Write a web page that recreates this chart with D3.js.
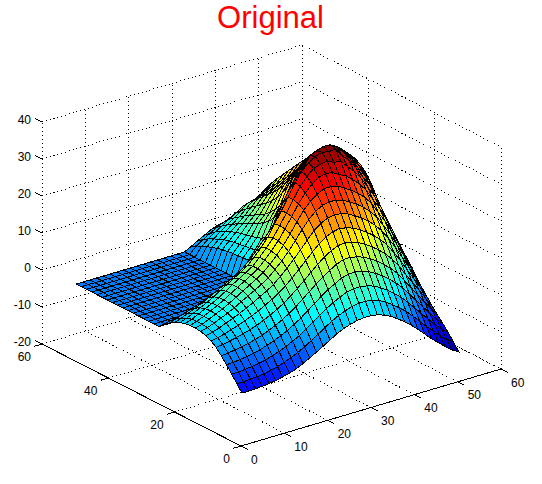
<!DOCTYPE html>
<html><head><meta charset="utf-8">
<style>html,body{margin:0;padding:0;background:#fff}svg{display:block}text{font-family:"Liberation Sans",Arial,sans-serif}</style>
<script src="https://cdnjs.cloudflare.com/ajax/libs/d3/7.8.5/d3.min.js"></script>
</head><body><svg id="c" width="542" height="484"></svg>
<script>
const titleText = "Original";
const xTicks = [0,10,20,30,40,50,60];
const yTicks = [0,20,40,60];
const zTicks = [-20,-10,0,10,20,30,40];
const gridCoords = [1,2.56,4.13,5.69,7.25,8.81,10.38,11.94,13.5,15.06,16.63,18.19,19.75,21.31,22.88,24.44,26,27.56,29.13,30.69,32.25,33.81,35.38,36.94,38.5,40.06,41.63,43.19,44.75,46.31,47.88,49.44,51];
const plane = [0,0,0,0,0,0,0,0,0,0,0,0,0,0,0,0,0];
// surface heights: one list per x node, values by y node
const surfaceZ = [
[-6.5,-4.7,-2.8,-1.0,0.7,2.3,3.3,4.0,4.4,4.6,4.6,4.4,3.9,3.2,2.4,1.4,...plane],
[-6.5,-4.7,-2.8,-0.9,0.9,2.5,3.6,4.4,4.9,5.1,5.2,5.0,4.6,3.9,3.0,1.8,...plane],
[-6.4,-4.5,-2.6,-0.7,1.2,2.9,4.1,5.0,5.6,5.9,6.0,5.9,5.4,4.7,3.7,2.2,...plane],
[-6.3,-4.4,-2.4,-0.4,1.5,3.3,4.7,5.8,6.4,6.8,6.9,6.8,6.3,5.5,4.3,2.6,...plane],
[-6.1,-4.2,-2.1,-0.1,1.9,3.8,5.3,6.5,7.2,7.6,7.8,7.7,7.2,6.3,5.0,3.0,...plane],
[-5.8,-3.8,-1.7,0.4,2.4,4.3,6.0,7.3,8.1,8.6,8.8,8.7,8.2,7.2,5.7,3.4,...plane],
[-5.4,-3.3,-1.1,1.0,3.0,5.0,6.8,8.2,9.2,9.7,10,9.9,9.4,8.2,6.5,3.9,...plane],
[-4.9,-2.7,-0.5,1.7,3.8,5.8,7.6,9.1,10.2,10.8,11.1,11.1,10.5,9.2,7.3,4.4,...plane],
[-4.3,-2.0,0.3,2.5,4.6,6.7,8.6,10.2,11.2,11.9,12.2,12.2,11.6,10.2,8.1,4.9,...plane],
[-3.4,-1.1,1.2,3.4,5.6,7.7,9.6,11.2,12.3,13,13.3,13.3,12.7,11.2,8.9,5.4,...plane],
[-2.4,-0.1,2.2,4.5,6.7,8.8,10.8,12.4,13.5,14.2,14.5,14.5,13.9,12.4,9.9,6,...plane],
[-1.4,1,3.4,5.7,8,10.2,12.2,14,15.2,15.9,16.3,16.3,15.7,14,11.2,6.8,...plane],
[-0.3,2.2,4.7,7.1,9.5,11.7,13.8,15.7,17,17.8,18.2,18.3,17.7,16,12.9,7.9,...plane],
[0.8,3.4,6,8.5,11,13.3,15.6,17.6,19,19.9,20.4,20.5,20,18.2,14.8,9.2,...plane],
[1.9,4.6,7.3,9.9,12.5,15,17.4,19.6,21.4,22.5,23.1,23.3,23,20.4,17.3,11,...plane],
[2.8,5.6,8.4,11.2,13.9,16.6,19.2,21.7,23.8,25.2,25.9,26.2,26,22.8,19,13.2,...plane],
[3.4,6.3,9.3,12.2,15.1,18,20.9,23.7,26,27.8,28.8,29.2,29.2,27,23.5,16,...plane],
[3.9,7,10.1,13.2,16.2,19.2,22.2,25.1,27.7,29.7,31.2,32.2,32.6,30.2,26.5,21,13,8,6.2,5.6,5.3,5.1,5,4.9,4.8,4.6,4.4,4,3.6,3,2.4,1.8,1],
[4.1,7.3,10.5,13.7,16.9,20,23,26,28.7,31,33,34.4,35,32.8,29.5,26,21,14,10,8.4,7.8,7.4,7.1,6.9,6.7,6.5,6.2,5.8,5.2,4.6,3.9,3,2],
[4.1,7.3,10.5,13.8,17,20.2,23.4,26.4,29.2,32,34.4,36,36.8,34.7,31.8,28.5,24.5,19.5,15.5,12.5,11,10,9.4,9,8.7,8.4,8,7.4,6.8,6,5.2,4.1,3],
[3.8,7,10.2,13.4,16.6,19.8,23,26.1,29,32,34.8,36.6,38,37.5,34.6,32,29,25.5,21.5,18,15.6,14,12.9,12,11.2,10.5,9.8,9,8.2,7.3,6.3,5.2,4],
[3.2,6.4,9.6,12.8,16,19.2,22.4,25.5,28.5,31.6,34.6,37,38.6,38.3,36.5,34,31,28,24.5,21.2,18.8,16.7,15.2,14,13.1,12.3,11.5,10.6,9.6,8.6,7.5,6,4.6],
[2.3,5.4,8.6,11.8,15,18.2,21.4,24.5,27.5,30.5,33.4,36,38.2,38.9,37.4,35.8,33.6,31.2,28.5,25.8,23,20.6,18.6,17,15.7,14.6,13.5,12.4,11.2,10,8.6,6.8,4.8],
[1.1,4.2,7.4,10.6,13.8,17,20.2,23.3,26.4,29.4,32.6,35.8,38.4,38.8,37.8,36.4,34.7,33,30.8,28.2,25.8,23.4,21.4,19.6,18.1,16.8,15.5,14.2,12.9,11.5,9.9,7.8,4.8],
[-0.2,2.8,6,9.2,12.4,15.6,18.8,22,25,28,31,33.8,36,37.5,37.4,36.4,35,33.5,31.7,29.6,27.4,25.2,23.2,21.4,19.7,18.1,16.6,15.1,13.6,12,10.2,8,4.6],
[-1.7,1.3,4.4,7.6,10.8,14,17.2,20.3,23.4,26.4,29.3,32,34.2,35.7,36.3,36.1,35.3,34.2,32.8,31,28.9,26.7,24.7,22.8,21.1,19.5,17.9,16.3,14.7,13,11,8.6,4.4],
[-3.4,-0.5,2.6,5.7,8.9,12,15.2,18.2,21.3,24.2,27,29.6,31.6,33.2,34.2,34.6,34.6,34,33,31.8,30,28.3,26.6,25,23.3,21.6,19.9,18.2,16.4,14.4,12,9,4.4],
[-5.2,-2.4,0.5,3.5,6.5,9.6,12.6,15.6,18.4,21.2,24,26.6,28.8,30.6,32,32.9,33.3,33.3,32.8,31.9,30.6,29,27.2,25.2,23,21.2,19.6,17.8,16,14.2,12,9.4,5],
[-7,-4.4,-1.6,1.2,4,6.8,9.8,12.7,15.6,18.4,21,23.6,26,28,29.6,30.8,31.4,31.7,31.8,31.4,30.6,29.6,28,26.4,24.4,22,20,17.6,15.8,14,12,9.6,6],
[-8.6,-6.1,-3.6,-1,1.5,4.1,6.8,9.5,12.2,14.9,17.5,20,22.4,24.4,26,27.4,28.6,29.4,29.8,30,29.9,29.4,28.6,27.2,25.5,23.4,21.2,19,17,14.6,12.2,10,7.5],
[-10.2,-8,-5.6,-3.3,-1,1.4,3.8,6.2,8.7,11.2,13.7,15.7,17.6,19.4,22,24.2,25.6,26.8,27.6,28.2,28.6,28.6,28.2,27.4,26,24.5,22.7,20.6,18.6,16.2,13.8,11.4,9.2],
[-11.6,-9.5,-7.4,-5.4,-3.4,-1.4,0.7,2.8,5,7.3,9.6,11.6,13.4,15.2,17.4,20,22.8,24.3,25.5,26.4,27,27.2,27.2,26.8,26,25,23.6,22,19.8,17.5,15.4,13.3,11],
[-12.7,-10.7,-9,-7.3,-5.8,-4.2,-2.4,-0.6,1.4,3.6,5.4,7.2,9.1,11,13.2,15.5,18.2,21,23,24.4,25.2,25.6,25.8,25.8,25.5,24.8,23.6,22,20.4,18.4,16.4,14.4,12.7]
];
const jetStops = ["#00008f","#0000ff","#00ffff","#ffff00","#ff0000","#800000"];

const sxX = d3.scaleLinear([0,60],[0,260]), syX = d3.scaleLinear([0,60],[0,-77]);
const sxY = d3.scaleLinear([0,60],[0,-199]), syY = d3.scaleLinear([0,60],[0,-102]);
const syZ = d3.scaleLinear([-20,40],[0,-222]);
const originX = 241, originY = 446;
const project = (x,y,z) => [originX+sxX(x)+sxY(y), originY+syX(x)+syY(y)+syZ(z)];
const allZ = surfaceZ.flat();
const cMin = d3.min(allZ), cMax = d3.max(allZ);
const jet = d3.scaleLinear()
  .domain([0,.125,.375,.625,.875,1].map(t=>cMin+t*(cMax-cMin)))
  .range(jetStops).clamp(true);
const svg = d3.select("#c");
const line = d3.line();
const seg = (g,a,b,dotted) => g.append("path").attr("d",line([project(...a),project(...b)]))
  .attr("fill","none").attr("stroke","#000").attr("stroke-width",1)
  .attr("stroke-dasharray",dotted?"1 3":null).attr("shape-rendering","crispEdges");

// dotted box grid
const grid = svg.append("g");
zTicks.forEach(z=>{ seg(grid,[0,60,z],[60,60,z],true); seg(grid,[60,60,z],[60,0,z],true); });
xTicks.forEach(x=>{ seg(grid,[x,60,-20],[x,60,40],true); seg(grid,[x,0,-20],[x,60,-20],true); });
yTicks.forEach(y=>{ seg(grid,[60,y,-20],[60,y,40],true); seg(grid,[0,y,-20],[60,y,-20],true); });

// axis lines and ticks
const ax = svg.append("g");
seg(ax,[0,0,-20],[60,0,-20]); seg(ax,[0,0,-20],[0,60,-20]);
xTicks.forEach(x=>seg(ax,[x,0,-20],[x,-2,-20]));
yTicks.forEach(y=>seg(ax,[0,y,-20],[-1.8,y,-20]));
zTicks.forEach(z=>seg(ax,[0,60,z],[0,62,z]));

// surface, painted back to front
const cells = [];
for (let i=gridCoords.length-2;i>=0;i--) for (let j=gridCoords.length-2;j>=0;j--) cells.push({i,j});
svg.append("g").selectAll("path").data(cells).join("path")
  .attr("d",({i,j})=>line([
     project(gridCoords[i],gridCoords[j],surfaceZ[i][j]),
     project(gridCoords[i+1],gridCoords[j],surfaceZ[i+1][j]),
     project(gridCoords[i+1],gridCoords[j+1],surfaceZ[i+1][j+1]),
     project(gridCoords[i],gridCoords[j+1],surfaceZ[i][j+1])])+"Z")
  .attr("fill",({i,j})=>jet((surfaceZ[i][j]+surfaceZ[i+1][j]+surfaceZ[i+1][j+1]+surfaceZ[i][j+1])/4))
  .attr("stroke","#000").attr("stroke-width",1).attr("shape-rendering","crispEdges");

// labels
const lab = svg.append("g").attr("font-size",12).attr("fill","#000");
xTicks.forEach(x=>{const p=project(x,0,-20); lab.append("text").attr("x",p[0]+10).attr("y",p[1]+17.5).text(x);});
yTicks.forEach(y=>{const p=project(0,y,-20); lab.append("text").attr("x",p[0]-11).attr("y",p[1]+16.5).attr("text-anchor","end").text(y);});
zTicks.forEach(z=>{const p=project(0,60,z); lab.append("text").attr("x",p[0]-11).attr("y",p[1]+1.5).attr("text-anchor","end").text(z);});
svg.append("text").attr("x",270.5).attr("y",28).attr("text-anchor","middle").attr("font-size",31).attr("fill","#f00").text(titleText);
</script></body></html>
